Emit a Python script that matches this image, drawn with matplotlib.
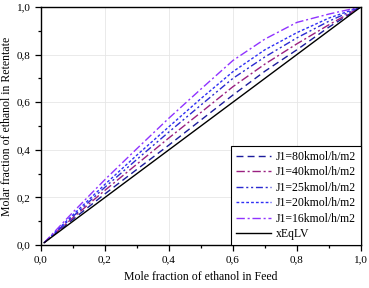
import matplotlib
matplotlib.use('Agg')
from matplotlib import pyplot as plt
from matplotlib.ticker import MultipleLocator, FuncFormatter

# feed composition (x) and retentate composition for each flux
x_feed = [0.01, 0.1, 0.2, 0.3, 0.4, 0.5, 0.6, 0.7, 0.8, 0.9, 1.0]
y_j80 = [0.01, 0.108, 0.215, 0.318, 0.42, 0.525, 0.63, 0.73, 0.82, 0.915, 1.0]
y_j40 = [0.01, 0.115, 0.23, 0.34, 0.45, 0.557, 0.665, 0.76, 0.845, 0.925, 1.0]
y_j25 = [0.01, 0.12, 0.243, 0.36, 0.475, 0.588, 0.70, 0.79, 0.87, 0.94, 1.0]
y_j20 = [0.01, 0.127, 0.255, 0.378, 0.497, 0.615, 0.728, 0.82, 0.892, 0.953, 1.0]
y_j16 = [0.01, 0.138, 0.275, 0.405, 0.533, 0.655, 0.775, 0.865, 0.935, 0.97, 1.0]
x_eq = [0.01, 1.0]
y_eq = [0.01, 1.0]

labels = ['J1=80kmol/h/m2', 'J1=40kmol/h/m2', 'J1=25kmol/h/m2',
          'J1=20kmol/h/m2', 'J1=16kmol/h/m2', 'xEqLV']

plt.rcParams['font.family'] = ['Liberation Serif', 'DejaVu Serif']

fig = plt.figure(figsize=(3.69, 2.88), dpi=100)
ax = fig.add_axes([0.111, 0.149, 0.867, 0.827])

ax.plot(x_feed, y_j80, color='#1c1c9c', lw=1.0, dashes=(5, 3), label=labels[0])
ax.plot(x_feed, y_j40, color='#9a2080', lw=1.0, dashes=(6, 2, 1.5, 2), label=labels[1])
ax.plot(x_feed, y_j25, color='#2a2ad0', lw=1.0, dashes=(5, 2, 1.5, 2, 1.5, 2), label=labels[2])
ax.plot(x_feed, y_j20, color='#2f2ff5', lw=1.0, dashes=(2, 1.5), label=labels[3])
ax.plot(x_feed, y_j16, color='#9033ff', lw=1.0, dashes=(6, 2, 1.5, 2), label=labels[4])
ax.plot(x_eq, y_eq, color='black', lw=1.0, label=labels[5])

ax.set_xlim(0, 1)
ax.set_ylim(0, 1)
ax.xaxis.set_major_locator(MultipleLocator(0.2))
ax.yaxis.set_major_locator(MultipleLocator(0.2))
ax.xaxis.set_minor_locator(MultipleLocator(0.1))
ax.yaxis.set_minor_locator(MultipleLocator(0.1))
comma = FuncFormatter(lambda v, p: f'{v:.1f}'.replace('.', ','))
ax.xaxis.set_major_formatter(comma)
ax.yaxis.set_major_formatter(comma)
ax.tick_params(which='both', direction='out', labelsize=8, width=0.9)
ax.tick_params(which='major', length=4)
ax.tick_params(which='minor', length=2.5)
ax.grid(True, color='#e6e6e6', lw=0.6)
ax.set_axisbelow(True)
for s in ax.spines.values():
    s.set_linewidth(1.0)

ax.set_xlabel('Mole fraction of ethanol in Feed', fontsize=8.5, labelpad=5)
ax.set_ylabel('Molar fraction of ethanol in Retentate', fontsize=8.5, labelpad=3)

leg = ax.legend(loc='lower right', fontsize=8.5, frameon=True, fancybox=False,
                edgecolor='black', framealpha=1, handlelength=3.0,
                borderaxespad=0, labelspacing=0.3, handletextpad=0.4,
                borderpad=0.4)
leg.get_frame().set_linewidth(0.8)

fig.savefig('out.png', dpi=100)
